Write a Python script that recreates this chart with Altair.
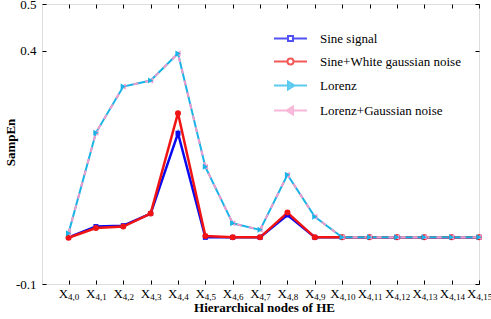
import altair as alt
import pandas as pd

# ---- data ----
idx = list(range(16))
nodes = ["4,0", "4,1", "4,2", "4,3", "4,4", "4,5", "4,6", "4,7",
         "4,8", "4,9", "4,10", "4,11", "4,12", "4,13", "4,14", "4,15"]
series = ["Sine signal", "Sine+White gaussian noise", "Lorenz", "Lorenz+Gaussian noise"]
sine = [0.0, 0.023, 0.025, 0.051, 0.223, 0.0, 0.0, 0.0, 0.048, 0.0,
        0.0, 0.0, 0.0, 0.0, 0.0, 0.0]
sine_noise = [-0.001, 0.020, 0.023, 0.051, 0.266, 0.003, 0.0, 0.0, 0.053, 0.0,
              0.0, 0.0, 0.0, 0.0, 0.0, 0.0]
lorenz = [0.009, 0.224, 0.323, 0.336, 0.394, 0.151, 0.030, 0.016, 0.134, 0.044,
          0.0, 0.0, 0.0, 0.0, 0.0, 0.0]
lorenz_noise = [0.009, 0.224, 0.323, 0.336, 0.394, 0.151, 0.030, 0.016, 0.134, 0.044,
                0.0, 0.0, 0.0, 0.0, 0.0, 0.0]
y_ticks = [-0.1, 0.4, 0.5]

colors = ["#0A0AF0", "#F01414", "#18B4E8", "#F59AC8"]
fills = ["white", "white", "#18B4E8", "#F59AC8"]
shapes = ["square", "circle", "triangle-right", "triangle-left"]
legend_paths = [
    "M-3.3,0H-0.5M0.5,0H3.3M-0.5,-0.5H0.5V0.5H-0.5Z",
    "M-3.3,0H-0.6M0.6,0H3.3M-0.6,0A0.6,0.6,0,1,0,0.6,0A0.6,0.6,0,1,0,-0.6,0Z",
    "M-3.3,0H3.3M-0.5,-0.8L0.8,0L-0.5,0.8Z",
    "M-3.3,0H3.3M0.5,-0.8L-0.8,0L0.5,0.8Z",
]

rows = []
for name, vals in zip(series, [sine, sine_noise, lorenz, lorenz_noise]):
    for i, v in zip(idx, vals):
        rows.append({"s": name, "i": i, "v": v})
df = pd.DataFrame(rows)
lab = pd.DataFrame({"i": idx, "sub": nodes})

FONT = "Liberation Serif"
xs = alt.Scale(domain=[-0.97, 15], nice=False, zero=False)
ys = alt.Scale(domain=[-0.1, 0.5], nice=False, zero=False)


def X(axis=None):
    return alt.X("i:Q", scale=xs, axis=axis)


def Y(axis=None):
    return alt.Y("v:Q", scale=ys, axis=axis)


ax_bottom = alt.Axis(orient="bottom", offset=-4, tickSize=4, domain=False, labels=False,
                     grid=False, values=idx, tickColor="black", tickWidth=1,
                     title="Hierarchical nodes of HE", titleFont=FONT, titleFontSize=13,
                     titleFontWeight="bold", titleColor="black", titleX=222, titleY=31,
                     titleBaseline="alphabetic", titleAlign="center")
ax_top = alt.Axis(orient="top", offset=-4, tickSize=4, domain=False, labels=False,
                  grid=False, values=idx, tickColor="black", tickWidth=1, title=None)
ax_left = alt.Axis(orient="left", offset=-4, tickSize=4, domain=False, grid=False,
                   values=y_ticks, tickColor="black", tickWidth=1, labelPadding=6,
                   labelExpr="replace(format(datum.value, '.1f'), '\u2212', '-')",
                   labelFont=FONT, labelFontSize=13, labelColor="black",
                   title="SampEn", titleFont=FONT, titleFontSize=13, titleFontWeight="bold",
                   titleColor="black", titleX=-36, titleY=138, titleAlign="center",
                   titleBaseline="middle", titleAngle=270)
ax_right = alt.Axis(orient="right", offset=-4, tickSize=4, domain=False, labels=False,
                    grid=False, values=y_ticks, tickColor="black", tickWidth=1, title=None)

base = alt.Chart(df)


def line(k, dash=None, width=2.5, xa=None, ya=None):
    kw = dict(color=colors[k], strokeWidth=width)
    if dash:
        kw["strokeDash"] = dash
    return base.transform_filter(alt.datum.s == series[k]).mark_line(**kw).encode(
        x=X(xa), y=Y(ya))


def pts(k, size):
    return base.transform_filter(alt.datum.s == series[k]).mark_point(
        shape=shapes[k], filled=True, size=size, color=colors[k], opacity=1).encode(
        x=X(), y=Y())


l_blue = line(0, width=2.5, xa=ax_bottom, ya=ax_left)
l_red = line(1, width=2.5, xa=ax_top, ya=ax_right)
l_cyan = line(2, width=2)
l_pink = line(3, dash=[5, 7], width=2)

p_blue = pts(0, 25)
p_red = pts(1, 36)
p_pink = pts(3, 36)
p_cyan = pts(2, 36)

leg = alt.Legend(title=None, orient="none", legendX=242, legendY=28, padding=0,
                 symbolSize=100, symbolStrokeWidth=2, labelOffset=23,
                 labelFont=FONT, labelFontSize=13, labelColor="black", rowPadding=8)
legend_layer = base.transform_filter("false").mark_point(strokeWidth=2).encode(
    x=X(), y=Y(),
    shape=alt.Shape("s:N", scale=alt.Scale(domain=series, range=legend_paths), legend=leg),
    stroke=alt.Stroke("s:N", scale=alt.Scale(domain=series, range=colors), legend=leg),
    fill=alt.Fill("s:N", scale=alt.Scale(domain=series, range=fills), legend=leg),
)

lab_base = alt.Chart(lab)
x_single = lab_base.transform_filter("datum.i < 10").mark_text(
    text="X", align="right", baseline="alphabetic", dx=-0.5, dy=14,
    font=FONT, fontSize=13, color="black").encode(x=X(), y=alt.value(280))
x_double = lab_base.transform_filter("datum.i >= 10").mark_text(
    text="X", align="right", baseline="alphabetic", dx=-2.5, dy=14,
    font=FONT, fontSize=13, color="black").encode(x=X(), y=alt.value(280))
s_single = lab_base.transform_filter("datum.i < 10").mark_text(
    align="left", baseline="alphabetic", dx=-0.5, dy=16,
    font=FONT, fontSize=9, color="black").encode(x=X(), y=alt.value(280), text="sub:N")
s_double = lab_base.transform_filter("datum.i >= 10").mark_text(
    align="left", baseline="alphabetic", dx=-2.5, dy=16,
    font=FONT, fontSize=9, color="black").encode(x=X(), y=alt.value(280), text="sub:N")

chart = alt.layer(
    l_blue, l_red, l_cyan, l_pink, p_blue, p_red, p_pink, p_cyan, legend_layer,
    x_single, x_double, s_single, s_double
).properties(
    width=437, height=280,
    autosize=alt.AutoSizeParams(type="none"),
    padding={"left": 42, "top": 4, "right": 12, "bottom": 35},
    background="white",
).configure_view(
    stroke="black", strokeWidth=1
).configure(
    font=FONT
).configure_axis(
    labelFont=FONT, titleFont=FONT, labelColor="black", titleColor="black"
).configure_legend(
    labelFont=FONT, labelFontSize=13, labelColor="black"
)

chart.save("out.html", embed_options={"renderer": "svg", "actions": False})
